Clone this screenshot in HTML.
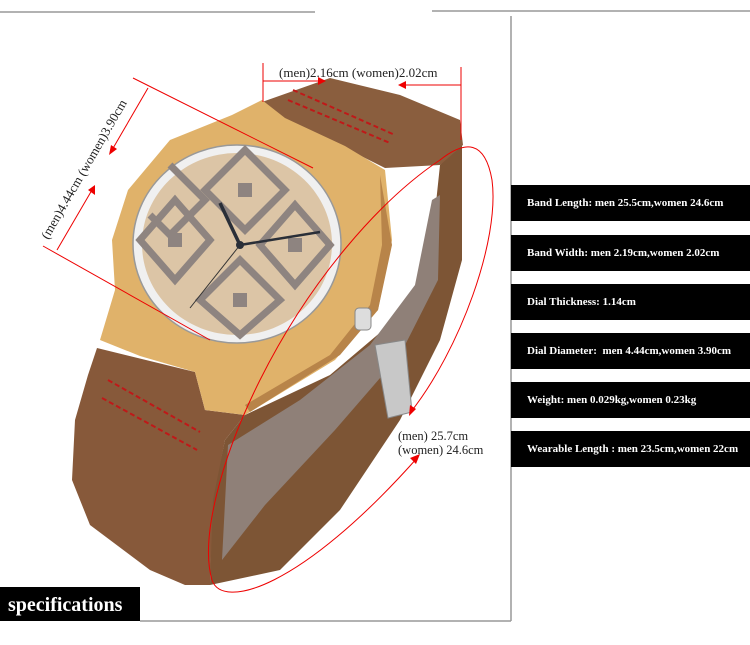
<!DOCTYPE html>
<html><head><style>
body{margin:0;width:750px;height:645px;background:#fff;position:relative;overflow:hidden;font-family:"Liberation Serif",serif}
.bar{position:absolute;left:511px;width:239px;height:36px;background:#000;color:#fff;font-weight:bold;font-size:11px;line-height:36px;padding-left:16px;box-sizing:border-box;white-space:nowrap}
</style></head><body>
<svg width="750" height="645" style="position:absolute;left:0;top:0">
<line x1="0" y1="12" x2="315" y2="12" stroke="#999" stroke-width="1.5"/>
<line x1="432" y1="11" x2="750" y2="11" stroke="#999" stroke-width="1.5"/>
<line x1="511" y1="16" x2="511" y2="621" stroke="#999" stroke-width="1.5"/>
<line x1="140" y1="621" x2="511" y2="621" stroke="#999" stroke-width="1.5"/>
<!-- back strap loop -->
<path d="M245 415 L330 375 L395 320 L430 260 L440 165 L462 140 L462 260 L440 340 L400 420 L340 510 L280 570 L210 585 L212 500 L225 440 Z" fill="#7d5535"/>
<path d="M228 445 L300 400 L370 345 L415 285 L432 200 L440 195 L438 280 L400 355 L335 430 L265 505 L222 560 Z" fill="#8f8078"/>
<path d="M375 345 L405 340 L412 412 L388 418 Z" fill="#c8c8c8" stroke="#888"/>
<!-- top strap -->
<path d="M262 102 L330 78 L400 95 L460 120 L463 145 L440 165 L385 168 L345 148 L290 122 Z" fill="#8a5e3e"/>
<!-- bottom strap -->
<path d="M97 348 L195 372 L205 410 L245 415 L225 440 L213 500 L210 585 L185 585 L150 570 L90 525 L72 480 L75 420 L88 375 Z" fill="#87593a"/>
<!-- wood case -->
<path d="M262 100 L285 118 L345 146 L385 170 L392 240 L378 310 L335 360 L245 415 L205 410 L195 372 L140 356 L100 340 L115 290 L112 240 L128 190 L170 140 L232 115 Z" fill="#e0b26a"/>
<path d="M380 175 L392 245 L378 310 L340 355 L250 412 L245 405 L330 355 L370 305 L382 245 Z" fill="#b88449"/>
<ellipse cx="237" cy="244" rx="104" ry="99" fill="#f0f0f0" stroke="#999" stroke-width="1.5"/>
<ellipse cx="237" cy="244" rx="95" ry="91" fill="#dcc5a6"/>
<g fill="none" stroke="#8e8480" stroke-width="7">
<path d="M245 150 L285 190 L245 230 L205 190 Z"/><path d="M170 165 L205 200 L170 235 L150 215"/>
<path d="M175 200 L210 240 L175 280 L140 240 Z"/><path d="M295 205 L330 245 L295 285 L260 245 Z"/>
<path d="M240 260 L280 300 L240 335 L200 300 Z"/>
</g>
<g fill="#8e8480">
<rect x="238" y="183" width="14" height="14"/><rect x="168" y="233" width="14" height="14"/><rect x="288" y="238" width="14" height="14"/><rect x="233" y="293" width="14" height="14"/>
</g>
<line x1="240" y1="245" x2="220" y2="203" stroke="#2a2f38" stroke-width="3.5"/>
<line x1="240" y1="245" x2="320" y2="232" stroke="#2a2f38" stroke-width="2.5"/>
<line x1="240" y1="245" x2="190" y2="308" stroke="#333" stroke-width="1"/>
<circle cx="240" cy="245" r="4" fill="#2a2f38"/>
<rect x="355" y="308" width="16" height="22" rx="4" fill="#ddd" stroke="#888"/>
<!-- stitches -->
<g stroke="#c01818" stroke-width="2" stroke-dasharray="5 3">
<line x1="293" y1="90" x2="395" y2="135"/><line x1="288" y1="100" x2="390" y2="143"/>
<line x1="108" y1="380" x2="200" y2="432"/><line x1="102" y1="398" x2="197" y2="450"/>
</g>
<!-- red measurement lines -->
<g stroke="#e00" stroke-width="1" fill="none">
<line x1="263" y1="63" x2="263" y2="102"/>
<line x1="461" y1="67" x2="461" y2="140"/>
<line x1="263" y1="81" x2="322" y2="81"/>
<line x1="402" y1="85" x2="461" y2="85"/>
<line x1="133" y1="78" x2="313" y2="168"/>
<line x1="43" y1="246" x2="210" y2="340"/>
<line x1="148" y1="88" x2="112" y2="150"/>
<line x1="57" y1="250" x2="92" y2="190"/>
<path d="M410 413 C460 350 500 240 492 180 C485 140 465 140 440 160 C380 200 310 280 260 380 C220 460 200 540 212 580 C222 610 300 590 418 457"/>
</g>
<g fill="#e00">
<polygon points="326,81 318,77 318,85"/><polygon points="398,85 406,81 406,89"/>
<polygon points="109,155 111,145 117,149"/><polygon points="95,185 88,190 95,195"/>
<polygon points="409,416 410,405 416,409"/><polygon points="420,454 410,458 416,464"/>
</g>
<rect x="0" y="587" width="140" height="34" fill="#000"/>
<text x="8" y="611" fill="#fff" font-family="Liberation Serif" font-weight="bold" font-size="20">specifications</text>
<text x="279" y="77" font-size="13" fill="#222">(men)2.16cm (women)2.02cm</text>
<text x="0" y="0" font-size="13" fill="#222" transform="translate(48,240) rotate(-60)">(men)4.44cm (women)3.90cm</text>
<text x="398" y="440" font-size="12.5" fill="#222">(men) 25.7cm</text>
<text x="398" y="454" font-size="12.5" fill="#222">(women) 24.6cm</text>
</svg>
<div class="bar" style="top:185px">Band Length: men 25.5cm,women 24.6cm</div>
<div class="bar" style="top:235px">Band Width: men 2.19cm,women 2.02cm</div>
<div class="bar" style="top:284px">Dial Thickness: 1.14cm</div>
<div class="bar" style="top:333px">Dial Diameter:&nbsp; men 4.44cm,women 3.90cm</div>
<div class="bar" style="top:382px">Weight: men 0.029kg,women 0.23kg</div>
<div class="bar" style="top:431px">Wearable Length : men 23.5cm,women 22cm</div>
</body></html>
